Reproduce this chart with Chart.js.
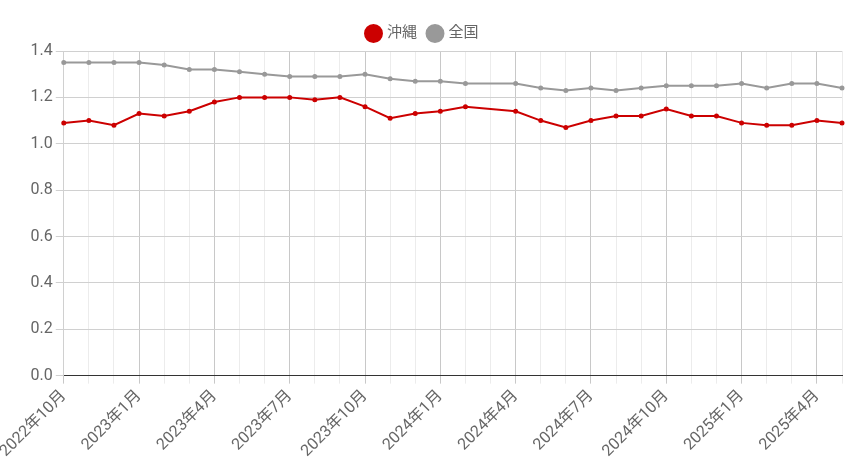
<!DOCTYPE html>
<html><head><meta charset="utf-8">
<script src="https://cdn.jsdelivr.net/npm/chart.js@4"></script>
<style>body{margin:0}#wrap{width:866px;height:464px}</style>
</head><body><div id="wrap"><canvas id="c"></canvas></div>
<script>
const months = [];
for (let y = 2022, m = 10; months.length < 32; m++) {
  if (m > 12) { m = 1; y++; }
  months.push(y + '年' + m + '月');
}
const okinawa = [1.09,1.10,1.08,1.13,1.12,1.14,1.18,1.20,1.20,1.20,1.19,1.20,1.16,1.11,1.13,1.14,1.16,null,1.14,1.10,1.07,1.10,1.12,1.12,1.15,1.12,1.12,1.09,1.08,1.08,1.10,1.09];
const zenkoku = [1.35,1.35,1.35,1.35,1.34,1.32,1.32,1.31,1.30,1.29,1.29,1.29,1.30,1.28,1.27,1.27,1.26,null,1.26,1.24,1.23,1.24,1.23,1.24,1.25,1.25,1.25,1.26,1.24,1.26,1.26,1.24];

Chart.defaults.font.family = 'Roboto, "Noto Sans CJK JP", sans-serif';
new Chart(document.getElementById('c'), {
  type: 'line',
  data: {
    labels: months,
    datasets: [
      { label: '沖縄', data: okinawa, borderColor: '#cc0000', backgroundColor: '#cc0000', borderWidth: 2, pointRadius: 1.5, spanGaps: true },
      { label: '全国', data: zenkoku, borderColor: '#999999', backgroundColor: '#999999', borderWidth: 2, pointRadius: 1.5, spanGaps: true }
    ]
  },
  options: {
    responsive: true, maintainAspectRatio: false, animation: false,
    layout: { padding: { right: 24, top: 14, left: 4 } },
    plugins: {
      legend: { labels: { usePointStyle: true, pointStyle: 'circle', boxWidth: 12, boxHeight: 12, padding: 12, color: '#666', font: { size: 15 } } }
    },
    scales: {
      x: {
        offset: false,
        border: { color: '#333' },
        grid: { color: (ctx) => ctx.index % 3 === 0 ? '#c8c8c8' : '#ececec' },
        ticks: { autoSkip: false, maxRotation: 45, minRotation: 45, color: '#666', font: { size: 16 },
          callback: function (v, i) { return i % 3 === 0 ? this.getLabelForValue(v) : ''; } }
      },
      y: {
        min: 0, max: 1.4,
        border: { color: '#d0d0d0' },
        grid: { color: '#d0d0d0' },
        ticks: { stepSize: 0.2, color: '#666', font: { size: 16 }, callback: v => v.toFixed(1) }
      }
    }
  }
});
</script></body></html>
